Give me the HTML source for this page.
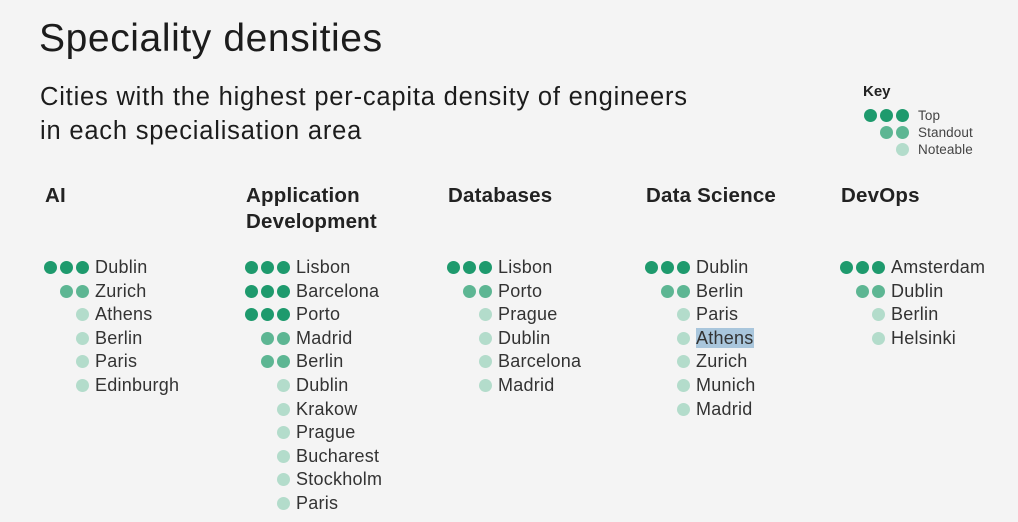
<!DOCTYPE html>
<html><head><meta charset="utf-8"><style>
body{margin:0;width:1018px;height:522px;background:#f4f4f4;font-family:"Liberation Sans",sans-serif;color:#222;position:relative;overflow:hidden}
.a{position:absolute;white-space:nowrap}
.t{font-size:39px;left:39px;top:17px;letter-spacing:0.6px;color:#1c1c1c}
.s{font-size:25.5px;left:40px;line-height:34px;top:80px;letter-spacing:0.8px;color:#1c1c1c}
.h{font-size:20.5px;font-weight:bold;line-height:26px;letter-spacing:0.2px;color:#222}
.r{font-size:18px;color:#333;line-height:20px;letter-spacing:0.25px}
.d{position:absolute;width:13px;height:13px;border-radius:50%}
.k1{background:#1e9a6d}.k2{background:#5db693}.k3{background:#b3dccb}
.kt{font-size:13.5px;color:#444;letter-spacing:0.1px}
</style></head><body>
<div class="a t">Speciality densities</div>
<div class="a s">Cities with the highest per-capita density of engineers<br>in each specialisation area</div>
<div class="a" style="left:863px;top:83px;font-size:15px;font-weight:bold">Key</div>
<div class="d k1" style="left:864px;top:109px"></div><div class="d k1" style="left:880px;top:109px"></div><div class="d k1" style="left:896px;top:109px"></div>
<div class="d k2" style="left:880px;top:126px"></div><div class="d k2" style="left:896px;top:126px"></div>
<div class="d k3" style="left:896px;top:143px"></div>
<div class="a kt" style="left:918px;top:108px">Top</div>
<div class="a kt" style="left:918px;top:125px">Standout</div>
<div class="a kt" style="left:918px;top:142px">Noteable</div>
<div id="c"></div>
<script>
var cols=[[44,["AI"],[[3,"Dublin"],[2,"Zurich"],[1,"Athens"],[1,"Berlin"],[1,"Paris"],[1,"Edinburgh"]]],
[245,["Application","Development"],[[3,"Lisbon"],[3,"Barcelona"],[3,"Porto"],[2,"Madrid"],[2,"Berlin"],[1,"Dublin"],[1,"Krakow"],[1,"Prague"],[1,"Bucharest"],[1,"Stockholm"],[1,"Paris"]]],
[447,["Databases"],[[3,"Lisbon"],[2,"Porto"],[1,"Prague"],[1,"Dublin"],[1,"Barcelona"],[1,"Madrid"]]],
[645,["Data Science"],[[3,"Dublin"],[2,"Berlin"],[1,"Paris"],[1,"Athens"],[1,"Zurich"],[1,"Munich"],[1,"Madrid"]]],
[840,["DevOps"],[[3,"Amsterdam"],[2,"Dublin"],[1,"Berlin"],[1,"Helsinki"]]]];
var h="";
cols.forEach(function(c){var x=c[0];
h+='<div class="a h" style="left:'+(x+1)+'px;top:183px">'+c[1].join("<br>")+'</div>';
c[2].forEach(function(r,i){var y=257+i*23.6;
for(var j=0;j<r[0];j++){h+='<div class="d k'+(4-r[0])+'" style="left:'+(x+32-j*16)+'px;top:'+(y+4)+'px"></div>';}
var hl=(x==645&&r[1]=="Athens")?'background:#a9c6dc;':'';
h+='<div class="a r" style="left:'+(x+51)+'px;top:'+y+'px;'+hl+'">'+r[1]+'</div>';});});
document.getElementById("c").innerHTML=h;
</script>
</body></html>
